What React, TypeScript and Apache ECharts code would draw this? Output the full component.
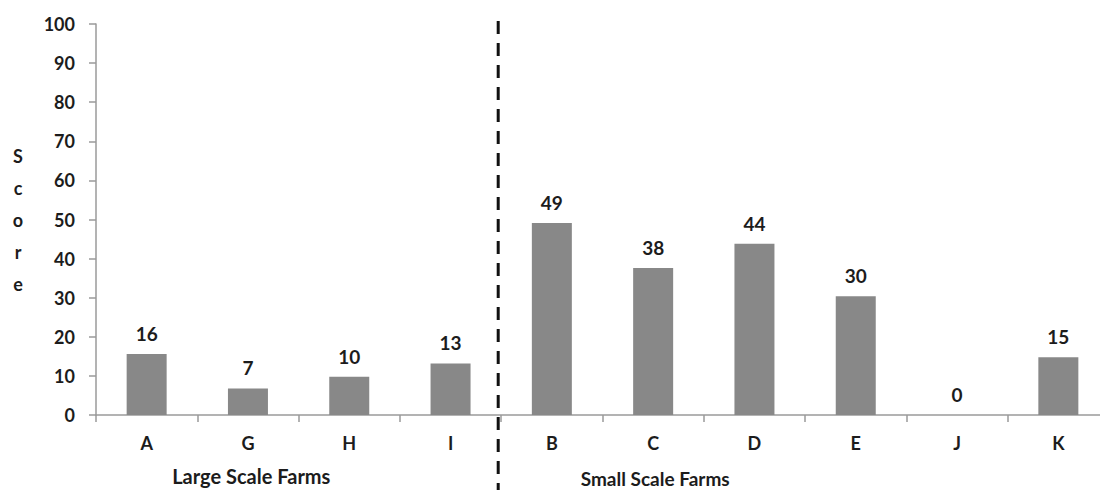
import React, { useEffect, useRef } from "react";
import * as echarts from "echarts";

const categories = ["A", "G", "H", "I", "B", "C", "D", "E", "J", "K"];
const scores = [15.6, 6.8, 9.8, 13.2, 49.1, 37.6, 43.8, 30.4, 0, 14.8];
const yTicks = { min: 0, max: 100, interval: 10 };
const groupLabels = ["Large Scale Farms", "Small Scale Farms"];
const yTitle = ["S", "c", "o", "r", "e"];

const FONT = "Lato";
const TEXT = "#1c1c1c";

export default function App() {
  const ref = useRef<HTMLDivElement>(null);
  useEffect(() => {
    document.body.style.margin = "0";
    const chart = echarts.init(ref.current!, undefined, { renderer: "svg" });
    chart.setOption({
      animation: false,
      grid: { left: 96, top: 24, width: 1013, height: 391 },
      xAxis: {
        type: "category",
        data: categories,
        axisLine: { lineStyle: { color: "#9a9a9a", width: 1.5 } },
        axisTick: { show: true, length: 7, alignWithLabel: false, lineStyle: { color: "#9a9a9a", width: 1.5 } },
        axisLabel: { color: TEXT, fontFamily: FONT, fontWeight: "bold", fontSize: 18, margin: 19 },
      },
      yAxis: {
        type: "value",
        min: yTicks.min,
        max: yTicks.max,
        interval: yTicks.interval,
        name: yTitle.join("\n"),
        nameLocation: "middle",
        nameRotate: 0,
        nameGap: 78,
        nameTextStyle: { color: TEXT, fontFamily: FONT, fontWeight: "bold", fontSize: 18, lineHeight: 32, align: "center" },
        splitLine: { show: false },
        axisLine: { show: true, lineStyle: { color: "#9a9a9a", width: 1.5 } },
        axisTick: { show: true, length: 7, lineStyle: { color: "#9a9a9a", width: 1.5 } },
        axisLabel: { color: TEXT, fontFamily: FONT, fontWeight: "bold", fontSize: 18, margin: 21 },
      },
      series: [
        {
          type: "bar",
          data: scores,
          barWidth: 40,
          itemStyle: { color: "#888888" },
          label: {
            show: true,
            position: "top",
            distance: 11,
            color: TEXT,
            fontFamily: FONT,
            fontWeight: "bold",
            fontSize: 19,
            formatter: (p: any) => String(Math.round(p.value)),
          },
        },
      ],
    });
    const xI = chart.convertToPixel({ xAxisIndex: 0 }, "I") as number;
    const xB = chart.convertToPixel({ xAxisIndex: 0 }, "B") as number;
    const xA = chart.convertToPixel({ xAxisIndex: 0 }, "A") as number;
    const xC = chart.convertToPixel({ xAxisIndex: 0 }, "C") as number;
    const xG = chart.convertToPixel({ xAxisIndex: 0 }, "G") as number;
    const divX = (xI + xB) / 2 - 3;
    chart.setOption({
      graphic: [
        {
          type: "line",
          shape: { x1: divX, y1: 21, x2: divX, y2: 490 },
          style: { stroke: "#111", lineWidth: 3, lineDash: [13, 9] },
        },
        {
          type: "text",
          x: (xA + xG) / 2 + 54,
          y: 476,
          style: { text: groupLabels[0], fill: TEXT, font: `bold 20px ${FONT}`, textAlign: "center", textVerticalAlign: "middle" },
        },
        {
          type: "text",
          x: xC + 2,
          y: 478,
          style: { text: groupLabels[1], fill: TEXT, font: `bold 19px ${FONT}`, textAlign: "center", textVerticalAlign: "middle" },
        },
      ],
    });
    return () => chart.dispose();
  }, []);
  return (
    <div style={{ width: 1100, height: 490, overflow: "hidden", position: "relative" }}>
      <div ref={ref} style={{ width: 1120, height: 490 }} />
    </div>
  );
}
